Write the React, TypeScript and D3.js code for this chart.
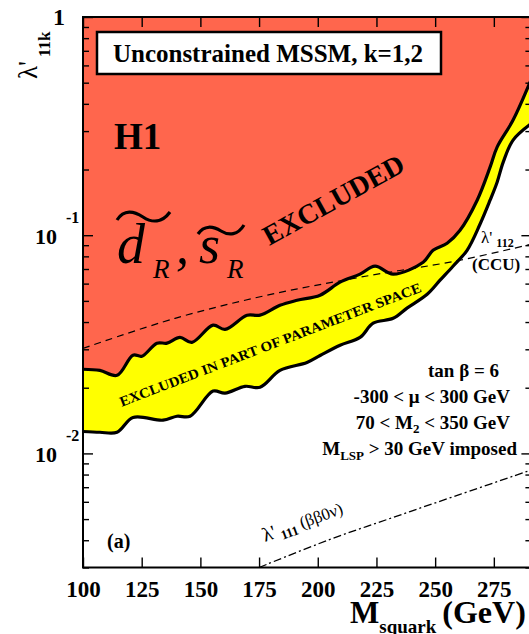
import React, { useEffect, useRef } from 'react';
import * as d3 from 'd3';

// squark mass (GeV) / lambda' limits
const upperMass = [100, 107.2, 114.5, 121.3, 125.1, 131.5, 135.8, 141.3, 146.4, 155.4, 160.5, 169.9, 175.4, 183.9, 191.2, 201.0, 209.5, 218.0, 224.4, 232.1, 244.9, 249.1, 255.1, 260.6, 267.9, 273.4, 276.4, 283.2, 291];
const upperLambda = [0.0243, 0.024, 0.0228, 0.0282, 0.0279, 0.032, 0.032, 0.034, 0.0323, 0.0387, 0.037, 0.043, 0.043, 0.0477, 0.0503, 0.0531, 0.0609, 0.0663, 0.0721, 0.0663, 0.0752, 0.0853, 0.0919, 0.1054, 0.1447, 0.205, 0.2533, 0.3369, 0.52];

const lowerMass = [100, 107.2, 114.5, 121.3, 134.1, 140.0, 145.6, 155.4, 160.5, 169.0, 175.4, 183.9, 195.4, 201.0, 209.5, 218.0, 223.6, 232.1, 238.0, 246.6, 252.1, 257.6, 263.6, 269.1, 273.4, 276.4, 279.0, 283.2, 291];
const lowerLambda = [0.0126, 0.0125, 0.0125, 0.0146, 0.0142, 0.0148, 0.0148, 0.0193, 0.0189, 0.0203, 0.0201, 0.024, 0.0261, 0.0281, 0.0313, 0.034, 0.0395, 0.0416, 0.0463, 0.0536, 0.0622, 0.0721, 0.0853, 0.1123, 0.1447, 0.175, 0.2162, 0.2728, 0.325];

// lambda'112 (CCU) dashed
const ccuMass = [100, 139.2, 178.4, 218.0, 260.6, 291];
const ccuLambda = [0.0303, 0.0416, 0.0531, 0.0642, 0.0768, 0.091];

// lambda'111 (bb0nu) dash-dot
const bbMass = [175, 204.0, 232.1, 260.6, 291];
const bbLambda = [0.003, 0.00399, 0.00509, 0.00649, 0.0084];

const xTicks = [100, 125, 150, 175, 200, 225, 250, 275];
const yMajor = [0.01, 0.1, 1];

const font = "'Liberation Serif', 'Times New Roman', serif";

const App: React.FC = () => {
  const svgRef = useRef<SVGSVGElement>(null);

  useEffect(() => {
    if (!svgRef.current) return;
    document.body.style.margin = '0';
    const svg = d3.select(svgRef.current);
    svg.selectAll('*').remove();

    const x = d3.scaleLinear().domain([100, 291]).range([83, 531.4]);
    const y = d3.scaleLog().domain([0.003, 1]).range([567.5, 17]);
    const left = x(100), right = x(291), top = y(1), bottom = y(0.003);

    const yMinor: number[] = [];
    [0.001, 0.01, 0.1].forEach((dec) => {
      for (let k = 2; k <= 9; k++) {
        const v = dec * k;
        if (v >= 0.003 && v < 1) yMinor.push(v);
      }
    });

    svg.append('clipPath').attr('id', 'plot')
      .append('rect').attr('x', left).attr('y', top).attr('width', right - left).attr('height', bottom - top);

    const toPts = (ms: number[], ls: number[]) => ms.map((m, i) => [m, ls[i]] as [number, number]);
    const upper = toPts(upperMass, upperLambda);
    const lower = toPts(lowerMass, lowerLambda);

    const curve = d3.curveCatmullRom.alpha(0.5);
    const area = d3.area<[number, number]>().x((d) => x(d[0])).y0(top).y1((d) => y(d[1])).curve(curve);
    const line = d3.line<[number, number]>().x((d) => x(d[0])).y((d) => y(d[1])).curve(curve);

    const g = svg.append('g').attr('clip-path', 'url(#plot)');
    g.append('path').datum(lower).attr('d', area).attr('fill', '#ffff00');
    g.append('path').datum(upper).attr('d', area).attr('fill', '#ff664d');

    g.append('path').datum(toPts(ccuMass, ccuLambda)).attr('d', line)
      .attr('fill', 'none').attr('stroke', '#000').attr('stroke-width', 1.2).attr('stroke-dasharray', '7,5');
    g.append('path').datum(toPts(bbMass, bbLambda)).attr('d', line)
      .attr('fill', 'none').attr('stroke', '#000').attr('stroke-width', 1.3).attr('stroke-dasharray', '8,3,2,3');

    g.append('path').datum(lower).attr('d', line).attr('fill', 'none').attr('stroke', '#000').attr('stroke-width', 3.2);
    g.append('path').datum(upper).attr('d', line).attr('fill', 'none').attr('stroke', '#000').attr('stroke-width', 3.2);

    // axes
    const tickStyle = (sel: any) => {
      sel.select('.domain').remove();
      sel.selectAll('.tick line').attr('stroke', '#000').attr('stroke-width', 1.4);
    };
    svg.append('g').attr('transform', `translate(0,${bottom})`)
      .call(d3.axisBottom(x).tickValues(xTicks).tickSize(-10).tickPadding(13).tickFormat(d3.format('d')))
      .call(tickStyle)
      .call((s) => s.selectAll('.tick text').attr('font-family', font).attr('font-size', 23)
        .attr('font-weight', 'bold').attr('fill', '#000'));
    svg.append('g').attr('transform', `translate(0,${top})`)
      .call(d3.axisTop(x).tickValues(xTicks).tickSize(-10).tickFormat(() => ''))
      .call(tickStyle);
    svg.append('g').attr('transform', `translate(${left},0)`)
      .call(d3.axisLeft(y).tickValues(yMajor).tickSize(-10).tickFormat(() => ''))
      .call(tickStyle);
    svg.append('g').attr('transform', `translate(${left},0)`)
      .call(d3.axisLeft(y).tickValues(yMinor).tickSize(-6).tickFormat(() => ''))
      .call(tickStyle);
    svg.append('g').attr('transform', `translate(${right},0)`)
      .call(d3.axisRight(y).tickValues(yMajor).tickSize(-10).tickFormat(() => ''))
      .call(tickStyle);
    svg.append('g').attr('transform', `translate(${right},0)`)
      .call(d3.axisRight(y).tickValues(yMinor).tickSize(-6).tickFormat(() => ''))
      .call(tickStyle);

    // frame
    svg.append('rect').attr('x', left).attr('y', top).attr('width', right - left).attr('height', bottom - top)
      .attr('fill', 'none').attr('stroke', '#000').attr('stroke-width', 2);

    const txt = (px: number, py: number, s: string, size: number, opts: any = {}) =>
      svg.append('text').attr('x', px).attr('y', py).attr('font-family', font).attr('font-size', size)
        .attr('font-weight', opts.weight ?? 'bold').attr('font-style', opts.style ?? 'normal')
        .attr('text-anchor', opts.anchor ?? 'start').attr('fill', '#000').text(s);

    // y tick labels
    [0.1, 0.01].forEach((v, i) => {
      txt(57, y(v) + 9, '10', 22, { anchor: 'end' });
      txt(66, y(v) - 12, i === 0 ? '-1' : '-2', 16);
    });
    txt(53, 25, '1', 24);

    // y title
    const yt = svg.append('text').attr('transform', 'translate(37,79) rotate(-90)')
      .attr('font-family', font).attr('fill', '#000');
    yt.append('tspan').attr('font-size', 27).text("λ'");
    yt.append('tspan').attr('font-size', 17).attr('font-weight', 'bold').attr('dx', 4).attr('dy', 13).text('11k');

    // x title
    const xt = svg.append('text').attr('x', 350).attr('y', 623).attr('font-family', font)
      .attr('font-weight', 'bold').attr('fill', '#000');
    xt.append('tspan').attr('font-size', 31).text('M');
    xt.append('tspan').attr('font-size', 19).attr('dy', 10).text('squark');
    xt.append('tspan').attr('font-size', 32).attr('dy', -10).attr('dx', 6).text('(GeV)');

    // title box
    svg.append('rect').attr('x', 97).attr('y', 32).attr('width', 344).attr('height', 42)
      .attr('fill', '#fff').attr('stroke', '#000').attr('stroke-width', 2.5);
    txt(268, 62, 'Unconstrained MSSM, k=1,2', 25, { anchor: 'middle' });

    txt(114, 149, 'H1', 37);

    // squark labels
    txt(117, 263, 'd', 56, { style: 'italic', weight: 'normal' });
    txt(153, 278, 'R', 27, { style: 'italic', weight: 'normal' });
    txt(176, 263, ',', 52, { style: 'italic', weight: 'normal' });
    txt(199, 263, 's', 54, { style: 'italic', weight: 'normal' });
    txt(227, 278, 'R', 27, { style: 'italic', weight: 'normal' });
    svg.append('path').attr('d', 'M117,220 C124,209 134,211 143,217 S162,223 170,212')
      .attr('fill', 'none').attr('stroke', '#000').attr('stroke-width', 3.2);
    svg.append('path').attr('d', 'M198,234 C204,225 213,226 221,231 S238,235 244,225')
      .attr('fill', 'none').attr('stroke', '#000').attr('stroke-width', 3.2);

    svg.append('text').attr('transform', 'translate(338,208) rotate(-29)').attr('text-anchor', 'middle')
      .attr('font-family', font).attr('font-size', 28).attr('font-weight', 'bold').attr('fill', '#000')
      .text('EXCLUDED');

    svg.append('text').attr('transform', 'translate(272,349) rotate(-21)').attr('text-anchor', 'middle')
      .attr('font-family', font).attr('font-size', 14).attr('font-weight', 'bold').attr('fill', '#000')
      .attr('textLength', 322).attr('lengthAdjust', 'spacingAndGlyphs')
      .text('EXCLUDED IN PART OF PARAMETER SPACE');

    // lambda'112 CCU label
    const l112 = svg.append('text').attr('x', 481).attr('y', 243).attr('font-family', font).attr('fill', '#000');
    l112.append('tspan').attr('font-size', 17).text("λ'");
    l112.append('tspan').attr('font-size', 12).attr('font-weight', 'bold').attr('dx', 4).attr('dy', 4).text('112');
    txt(472, 270, '(CCU)', 17);

    // lambda'111 label
    const l111 = svg.append('text').attr('transform', 'translate(265,542) rotate(-20)')
      .attr('font-family', font).attr('fill', '#000');
    l111.append('tspan').attr('font-size', 20).text("λ'");
    l111.append('tspan').attr('font-size', 13).attr('font-weight', 'bold').attr('dx', 4).attr('dy', 4).text('111');
    l111.append('tspan').attr('font-size', 17).attr('dx', 4).attr('dy', -4).text('(ββ0ν)');

    // parameter block
    txt(499, 377, 'tan β = 6', 19, { anchor: 'end' });
    txt(510, 403, '-300 < μ < 300 GeV', 19, { anchor: 'end' });
    const m2 = svg.append('text').attr('x', 510).attr('y', 429).attr('text-anchor', 'end')
      .attr('font-family', font).attr('font-weight', 'bold').attr('font-size', 19).attr('fill', '#000');
    m2.append('tspan').text('70 < M');
    m2.append('tspan').attr('font-size', 13).attr('dy', 4).text('2');
    m2.append('tspan').attr('dy', -4).text(' < 350 GeV');
    const lsp = svg.append('text').attr('x', 517).attr('y', 455).attr('text-anchor', 'end')
      .attr('font-family', font).attr('font-weight', 'bold').attr('font-size', 19).attr('fill', '#000');
    lsp.append('tspan').text('M');
    lsp.append('tspan').attr('font-size', 13).attr('dy', 5).text('LSP');
    lsp.append('tspan').attr('dy', -5).text(' > 30 GeV imposed');

    txt(107, 548, '(a)', 20);
  }, []);

  return <svg ref={svgRef} width={529} height={634} style={{ display: 'block', background: '#fff' }} />;
};

export default App;
